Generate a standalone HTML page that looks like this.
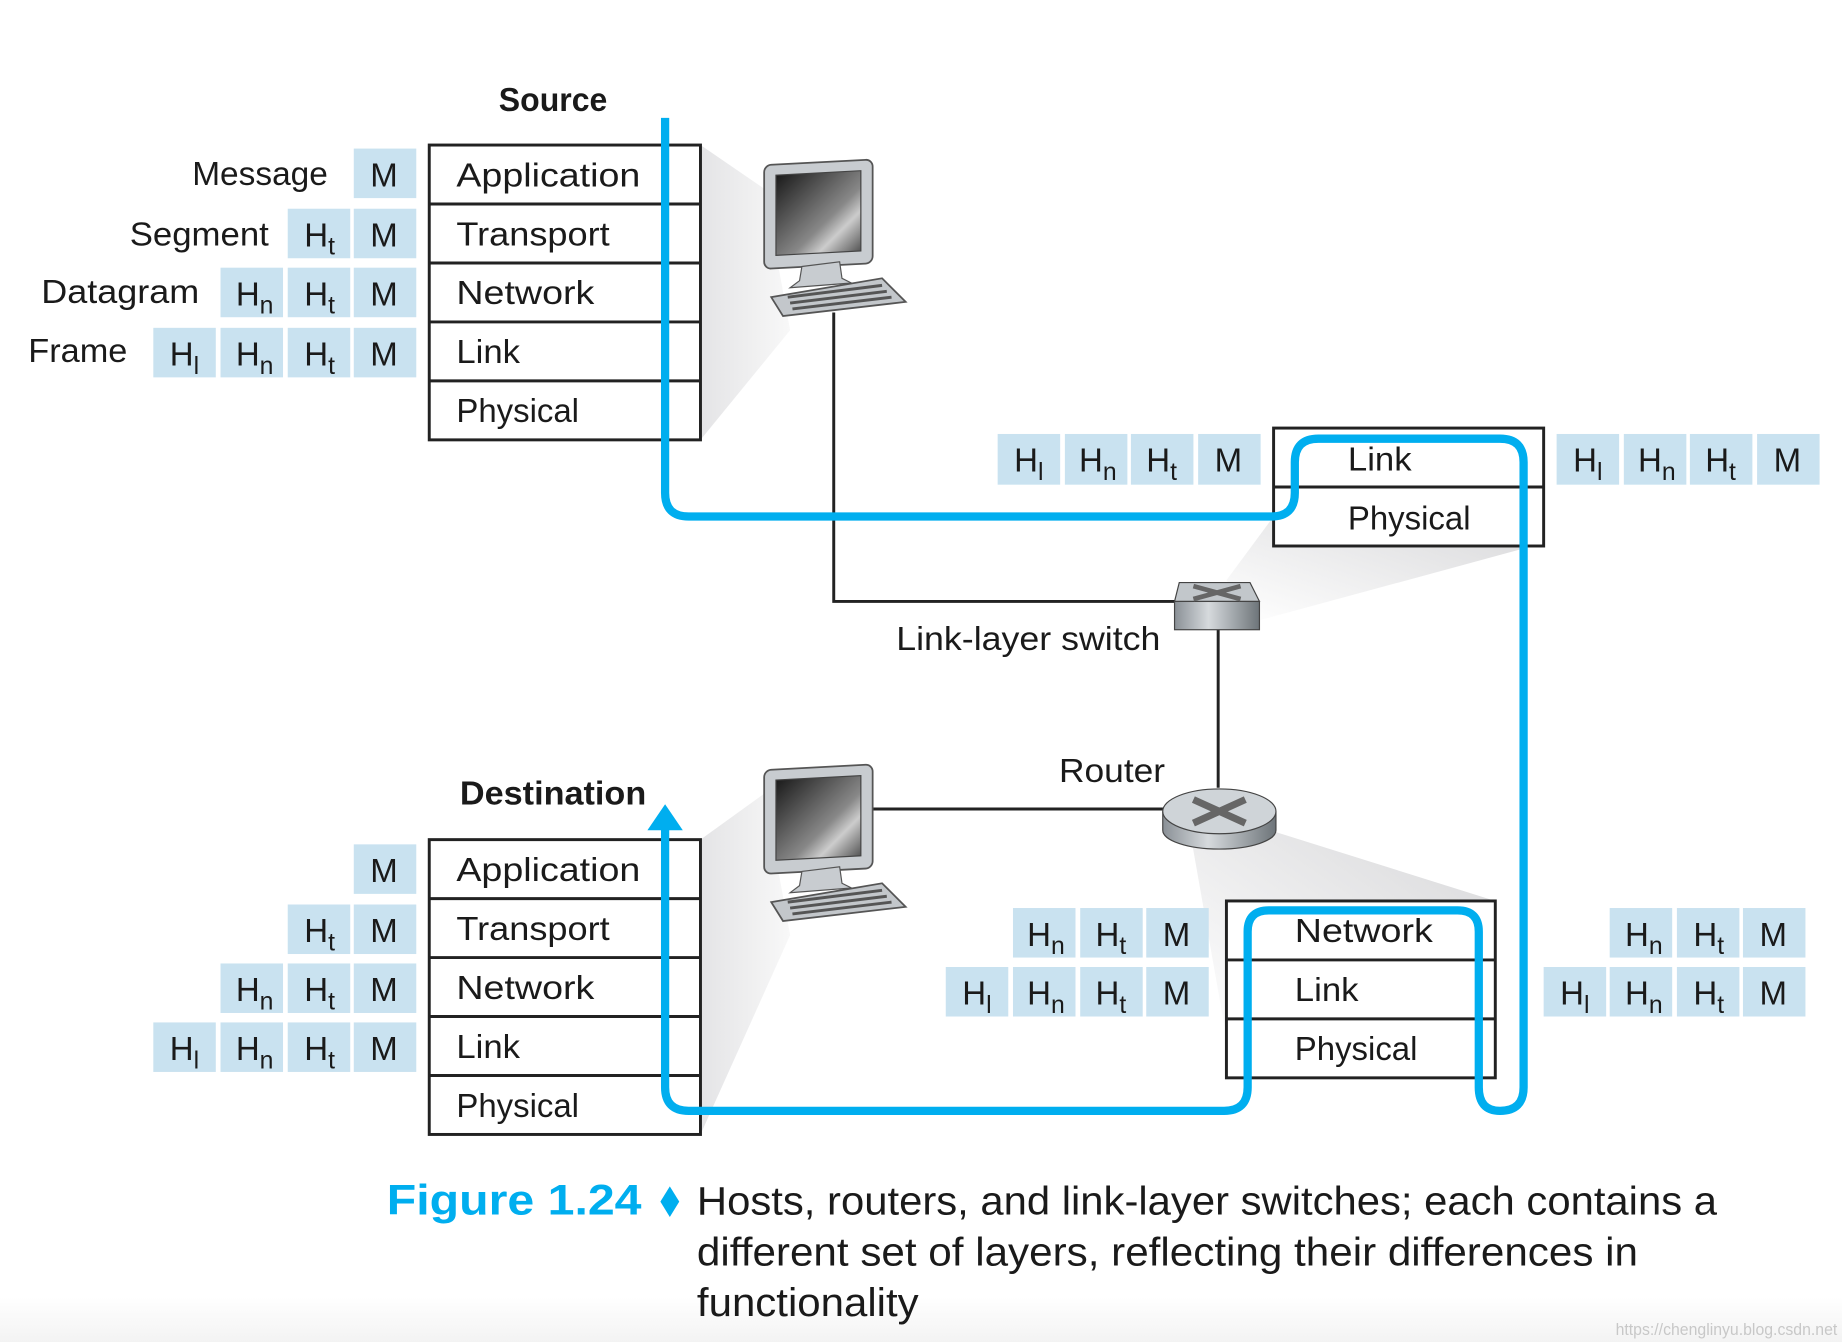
<!DOCTYPE html>
<html><head><meta charset="utf-8"><style>
html,body{margin:0;padding:0;background:#fff;width:1842px;height:1342px;overflow:hidden}
svg{display:block}
text{font-family:"Liberation Sans",sans-serif;fill:#1a1a1a}
.c{fill:#c9e2f0}
.t{font-size:27px}
.s{font-size:21px}
</style></head><body>
<svg width="1842" height="1342" viewBox="0 0 1562 1138" preserveAspectRatio="none" xmlns="http://www.w3.org/2000/svg">
<defs>
<linearGradient id="scr" x1="0" y1="0" x2="1" y2="1"><stop offset="0" stop-color="#1a1a1a"/><stop offset="0.6" stop-color="#888"/><stop offset="0.75" stop-color="#ccc"/><stop offset="1" stop-color="#555"/></linearGradient>
<linearGradient id="fan" x1="0" y1="0" x2="1" y2="0"><stop offset="0" stop-color="#e4e4e6"/><stop offset="1" stop-color="#f8f8f8"/></linearGradient>
<linearGradient id="fan2" x1="0" y1="1" x2="1" y2="0"><stop offset="0" stop-color="#ffffff"/><stop offset="1" stop-color="#d8d8da"/></linearGradient>
<linearGradient id="cyl" x1="0" y1="0" x2="1" y2="0"><stop offset="0" stop-color="#8a9096"/><stop offset="0.4" stop-color="#d6dadd"/><stop offset="1" stop-color="#6d7479"/></linearGradient>
<linearGradient id="btm" x1="0" y1="0" x2="0" y2="1"><stop offset="0" stop-color="#fff"/><stop offset="1" stop-color="#f3f3f3"/></linearGradient>
<g id="pc">
<rect x="648" y="140" width="92" height="88" rx="6" fill="#c8ccd0" stroke="#555" stroke-width="1.5" transform="skewY(-3) translate(0,34)"/>
<rect x="658" y="149" width="72" height="68" fill="url(#scr)" stroke="#444" transform="skewY(-3) translate(0,34)"/>
<path d="M680 226 L712 222 L714 236 L722 240 L670 244 L678 238 Z" fill="#c8ccd0" stroke="#555"/>
<path d="M654 252 L748 236 L768 256 L664 268 Z" fill="#c3c7cb" stroke="#555" stroke-width="1.5"/>
<path d="M668 252 L748 242 M670 257 L752 247 M672 262 L756 252" stroke="#555" stroke-width="2.5"/>
</g>
</defs>
<rect x="0" y="1100" width="1562" height="38" fill="url(#btm)"/>

<path d="M594 123 L648 160 L670 280 L594 373 Z" fill="url(#fan)"/>
<path d="M594 712 L648 673 L670 793 L594 962 Z" fill="url(#fan)"/>
<path d="M1080 438 L1040 492 L1068 526 L1300 463 Z" fill="url(#fan2)"/>
<path d="M1010 710 L1080 705 L1268 764 L1040 764 L1040 880 Z" fill="url(#fan2)"/>

<path d="M707 265 V510 H998" fill="none" stroke="#222" stroke-width="2.5"/>
<path d="M1033 530 V668" fill="none" stroke="#222" stroke-width="2.5"/>
<path d="M736 686 H990" fill="none" stroke="#222" stroke-width="2.5"/>

<use href="#pc"/>
<use href="#pc" transform="translate(0,513)"/>

<path d="M1000 494 L1060 494 L1068 510 L996 510 Z" fill="#c2c7cb" stroke="#444"/>
<rect x="996" y="510" width="72" height="24" fill="url(#cyl)" stroke="#444"/>
<path d="M1012 497 L1052 508 M1052 497 L1012 508" stroke="#666" stroke-width="4"/>
<path d="M986 688 V704 A48 16 0 0 0 1082 704 V688" fill="url(#cyl)" stroke="#444"/>
<ellipse cx="1034" cy="688" rx="48" ry="19" fill="#cfd4d8" stroke="#444"/>
<path d="M1012 678 L1056 698 M1056 678 L1012 698" stroke="#666" stroke-width="6"/>

<g fill="#fff" stroke="#222" stroke-width="2.5">
<rect x="364" y="123" width="230" height="250"/>
<rect x="364" y="712" width="230" height="250"/>
<rect x="1080" y="363" width="229" height="100"/>
<rect x="1040" y="764" width="228" height="150"/>
</g>
<g stroke="#222" stroke-width="2.5">
<path d="M364 173H594M364 223H594M364 273H594M364 323H594"/>
<path d="M364 762H594M364 812H594M364 862H594M364 912H594"/>
<path d="M1080 413H1309"/>
<path d="M1040 814H1268M1040 864H1268"/>
</g>
<g font-size="28">
<text x="387" y="158" textLength="156" lengthAdjust="spacingAndGlyphs">Application</text>
<text x="387" y="208" textLength="130" lengthAdjust="spacingAndGlyphs">Transport</text>
<text x="387" y="258" textLength="117" lengthAdjust="spacingAndGlyphs">Network</text>
<text x="387" y="308" textLength="54" lengthAdjust="spacingAndGlyphs">Link</text>
<text x="387" y="358" textLength="104" lengthAdjust="spacingAndGlyphs">Physical</text>
<text x="387" y="747" textLength="156" lengthAdjust="spacingAndGlyphs">Application</text>
<text x="387" y="797" textLength="130" lengthAdjust="spacingAndGlyphs">Transport</text>
<text x="387" y="847" textLength="117" lengthAdjust="spacingAndGlyphs">Network</text>
<text x="387" y="897" textLength="54" lengthAdjust="spacingAndGlyphs">Link</text>
<text x="387" y="947" textLength="104" lengthAdjust="spacingAndGlyphs">Physical</text>
<text x="1143" y="399" textLength="54" lengthAdjust="spacingAndGlyphs">Link</text>
<text x="1143" y="449" textLength="104" lengthAdjust="spacingAndGlyphs">Physical</text>
<text x="1098" y="799" textLength="117" lengthAdjust="spacingAndGlyphs">Network</text>
<text x="1098" y="849" textLength="54" lengthAdjust="spacingAndGlyphs">Link</text>
<text x="1098" y="899" textLength="104" lengthAdjust="spacingAndGlyphs">Physical</text>
</g>

<path d="M564 100 V418 Q564 438 584 438 H1078 Q1098 438 1098 418 V392 Q1098 372 1118 372 H1272 Q1292 372 1292 392 V922 Q1292 942 1272 942 Q1254 942 1254 922 V790 Q1254 772 1236 772 H1076 Q1058 772 1058 790 V922 Q1058 942 1038 942 H584 Q564 942 564 922 V700" fill="none" stroke="#00aeef" stroke-width="7"/>
<path d="M549 704 L564 682 L579 704 Z" fill="#00aeef"/>

<g>
<rect class="c" x="300" y="126" width="53" height="42"/>
<rect class="c" x="244" y="177" width="53" height="42"/><rect class="c" x="300" y="177" width="53" height="42"/>
<rect class="c" x="187" y="227" width="53" height="42"/><rect class="c" x="244" y="227" width="53" height="42"/><rect class="c" x="300" y="227" width="53" height="42"/>
<rect class="c" x="130" y="278" width="53" height="42"/><rect class="c" x="187" y="278" width="53" height="42"/><rect class="c" x="244" y="278" width="53" height="42"/><rect class="c" x="300" y="278" width="53" height="42"/>
<rect class="c" x="300" y="716" width="53" height="42"/>
<rect class="c" x="244" y="767" width="53" height="42"/><rect class="c" x="300" y="767" width="53" height="42"/>
<rect class="c" x="187" y="817" width="53" height="42"/><rect class="c" x="244" y="817" width="53" height="42"/><rect class="c" x="300" y="817" width="53" height="42"/>
<rect class="c" x="130" y="867" width="53" height="42"/><rect class="c" x="187" y="867" width="53" height="42"/><rect class="c" x="244" y="867" width="53" height="42"/><rect class="c" x="300" y="867" width="53" height="42"/>
<rect class="c" x="846" y="368" width="53" height="43"/><rect class="c" x="903" y="368" width="53" height="43"/><rect class="c" x="959" y="368" width="53" height="43"/><rect class="c" x="1016" y="368" width="53" height="43"/>
<rect class="c" x="1320" y="368" width="53" height="43"/><rect class="c" x="1377" y="368" width="53" height="43"/><rect class="c" x="1433" y="368" width="53" height="43"/><rect class="c" x="1490" y="368" width="53" height="43"/>
<rect class="c" x="859" y="770" width="53" height="42"/><rect class="c" x="916" y="770" width="53" height="42"/><rect class="c" x="972" y="770" width="53" height="42"/>
<rect class="c" x="802" y="820" width="53" height="42"/><rect class="c" x="859" y="820" width="53" height="42"/><rect class="c" x="916" y="820" width="53" height="42"/><rect class="c" x="972" y="820" width="53" height="42"/>
<rect class="c" x="1365" y="770" width="53" height="42"/><rect class="c" x="1422" y="770" width="53" height="42"/><rect class="c" x="1478" y="770" width="53" height="42"/>
<rect class="c" x="1309" y="820" width="53" height="42"/><rect class="c" x="1365" y="820" width="53" height="42"/><rect class="c" x="1422" y="820" width="53" height="42"/><rect class="c" x="1478" y="820" width="53" height="42"/>
</g>

<g font-size="28">
<text x="314" y="158">M</text>
<text x="314" y="209">M</text><text x="258" y="209">H<tspan class="s" dy="7">t</tspan></text>
<text x="314" y="259">M</text><text x="258" y="259">H<tspan class="s" dy="7">t</tspan></text><text x="200" y="259">H<tspan class="s" dy="7">n</tspan></text>
<text x="314" y="310">M</text><text x="258" y="310">H<tspan class="s" dy="7">t</tspan></text><text x="200" y="310">H<tspan class="s" dy="7">n</tspan></text><text x="144" y="310">H<tspan class="s" dy="7">l</tspan></text>

<text x="314" y="748">M</text>
<text x="314" y="799">M</text><text x="258" y="799">H<tspan class="s" dy="7">t</tspan></text>
<text x="314" y="849">M</text><text x="258" y="849">H<tspan class="s" dy="7">t</tspan></text><text x="200" y="849">H<tspan class="s" dy="7">n</tspan></text>
<text x="314" y="899">M</text><text x="258" y="899">H<tspan class="s" dy="7">t</tspan></text><text x="200" y="899">H<tspan class="s" dy="7">n</tspan></text><text x="144" y="899">H<tspan class="s" dy="7">l</tspan></text>

<text x="860" y="400">H<tspan class="s" dy="7">l</tspan></text><text x="915" y="400">H<tspan class="s" dy="7">n</tspan></text><text x="972" y="400">H<tspan class="s" dy="7">t</tspan></text><text x="1030" y="400">M</text>
<text x="1334" y="400">H<tspan class="s" dy="7">l</tspan></text><text x="1389" y="400">H<tspan class="s" dy="7">n</tspan></text><text x="1446" y="400">H<tspan class="s" dy="7">t</tspan></text><text x="1504" y="400">M</text>

<text x="871" y="802">H<tspan class="s" dy="7">n</tspan></text><text x="929" y="802">H<tspan class="s" dy="7">t</tspan></text><text x="986" y="802">M</text>
<text x="816" y="852">H<tspan class="s" dy="7">l</tspan></text><text x="871" y="852">H<tspan class="s" dy="7">n</tspan></text><text x="929" y="852">H<tspan class="s" dy="7">t</tspan></text><text x="986" y="852">M</text>
<text x="1378" y="802">H<tspan class="s" dy="7">n</tspan></text><text x="1436" y="802">H<tspan class="s" dy="7">t</tspan></text><text x="1492" y="802">M</text>
<text x="1323" y="852">H<tspan class="s" dy="7">l</tspan></text><text x="1378" y="852">H<tspan class="s" dy="7">n</tspan></text><text x="1436" y="852">H<tspan class="s" dy="7">t</tspan></text><text x="1492" y="852">M</text>

<text x="163" y="157" textLength="115" lengthAdjust="spacingAndGlyphs">Message</text>
<text x="110" y="208" textLength="118" lengthAdjust="spacingAndGlyphs">Segment</text>
<text x="35" y="257" textLength="134" lengthAdjust="spacingAndGlyphs">Datagram</text>
<text x="24" y="307" textLength="84" lengthAdjust="spacingAndGlyphs">Frame</text>
<text x="760" y="551" textLength="224" lengthAdjust="spacingAndGlyphs">Link-layer switch</text>
<text x="898" y="663" textLength="90" lengthAdjust="spacingAndGlyphs">Router</text>
</g>
<text x="469" y="94" text-anchor="middle" font-size="28" font-weight="bold" textLength="92" lengthAdjust="spacingAndGlyphs">Source</text>
<text x="469" y="682" text-anchor="middle" font-size="28" font-weight="bold" textLength="158" lengthAdjust="spacingAndGlyphs">Destination</text>

<text x="328" y="1030" font-size="36" font-weight="bold" style="fill:#00aeef" textLength="216" lengthAdjust="spacingAndGlyphs">Figure 1.24</text>
<path d="M568 1006 L576 1019 L568 1032 L560 1019 Z" fill="#00aeef"/>
<text x="591" y="1030" font-size="34" textLength="865" lengthAdjust="spacingAndGlyphs">Hosts, routers, and link-layer switches; each contains a</text>
<text x="591" y="1073" font-size="34" textLength="798" lengthAdjust="spacingAndGlyphs">different set of layers, reflecting their differences in</text>
<text x="591" y="1116" font-size="34" textLength="188" lengthAdjust="spacingAndGlyphs">functionality</text>
<text x="1370" y="1132" font-size="14" style="fill:#c8c8c8" textLength="188" lengthAdjust="spacingAndGlyphs">https://chenglinyu.blog.csdn.net</text>
</svg>
</body></html>
